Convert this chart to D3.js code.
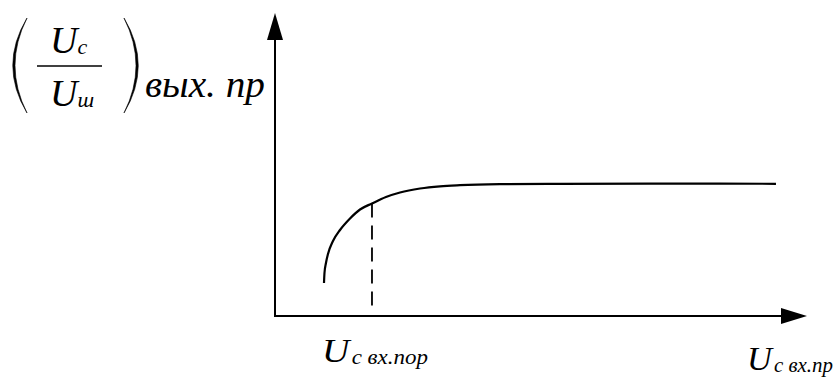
<!DOCTYPE html>
<html>
<head>
<meta charset="utf-8">
<script src="https://cdn.jsdelivr.net/npm/d3@7"></script>
<style>
  body { margin: 0; background: #fff; }
</style>
</head>
<body>
<div id="viz"></div>
<script>
var width = 840
var height = 382

// curve (arbitrary units)
var curveX = [9.21, 9.30, 9.58, 9.96, 10.90, 12.22, 14.10, 15.98, 18.23, 20.86, 23.50, 27.26, 31.02, 34.77, 42.29, 53.57, 70.49, 94.17]
var curveY = [10.89, 14.19, 17.49, 20.46, 24.75, 28.38, 32.18, 35.15, 37.13, 39.27, 40.76, 42.08, 42.81, 43.17, 43.50, 43.63, 43.70, 43.63]

// threshold point
var thresholdX = 18.23
var thresholdY = 37.13

// labels
var yLabelNum = ["U", "c"]
var yLabelDen = ["U", "ш"]
var yLabelSub = "вых. пр"
var xLabels = [
  { main: "U", sub: "c вх.пор" },
  { main: "U", sub: "c вх.пр" }
]

var serif = "'Liberation Serif', 'Times New Roman', Tinos, 'Nimbus Roman', 'FreeSerif', 'DejaVu Serif', serif"

var svg = d3.select("#viz")
  .append("svg")
  .attr("width", width)
  .attr("height", height)
  .attr("font-family", serif)
  .attr("font-style", "italic");

var x = d3.scaleLinear().domain([0, 100]).range([275, 807]);
var y = d3.scaleLinear().domain([0, 100]).range([316, 13]);

// axes
svg.append("line")
  .attr("x1", x(0)).attr("y1", y(0))
  .attr("x2", x(0)).attr("y2", y(92))
  .attr("stroke", "#000").attr("stroke-width", 2);

svg.append("line")
  .attr("x1", x(0) - 1).attr("y1", y(0))
  .attr("x2", x(96)).attr("y2", y(0))
  .attr("stroke", "#000").attr("stroke-width", 2);

// arrow heads
svg.append("path")
  .attr("d", "M" + x(0) + "," + y(100) + " L" + (x(0) - 8) + "," + (y(100) + 27) + " L" + (x(0) + 8) + "," + (y(100) + 27) + " Z")
  .attr("fill", "#000");

svg.append("path")
  .attr("d", "M" + x(100) + "," + y(0) + " L" + (x(100) - 26) + "," + (y(0) - 8) + " L" + (x(100) - 26) + "," + (y(0) + 8) + " Z")
  .attr("fill", "#000");

// curve
var pts = curveX.map(function(d, i) { return [d, curveY[i]]; });
var line = d3.line()
  .x(function(d) { return x(d[0]); })
  .y(function(d) { return y(d[1]); })
  .curve(d3.curveMonotoneX);

svg.append("path")
  .datum(pts)
  .attr("d", line)
  .attr("fill", "none")
  .attr("stroke", "#000")
  .attr("stroke-width", 2.2);

// dashed threshold line
svg.append("line")
  .attr("x1", x(thresholdX)).attr("y1", y(thresholdY))
  .attr("x2", x(thresholdX)).attr("y2", y(1.2))
  .attr("stroke", "#000")
  .attr("stroke-width", 1.8)
  .attr("stroke-dasharray", "14,8");

// y label: ( Uc / Uш ) вых. пр
var yl = svg.append("g");

function paren(x0, dir) {
  // thin crescent bracket
  var top = 18, bot = 113, mid = (top + bot) / 2;
  var bulge = 15 * dir;
  return "M" + x0 + "," + top +
    " Q" + (x0 - bulge * 1.9) + "," + mid + " " + x0 + "," + bot +
    " Q" + (x0 - bulge * 1.6) + "," + mid + " " + x0 + "," + top + " Z";
}
yl.append("path").attr("d", paren(27, 1)).attr("fill", "#000").attr("stroke", "#000").attr("stroke-width", 0.6);
yl.append("path").attr("d", paren(124, -1)).attr("fill", "#000").attr("stroke", "#000").attr("stroke-width", 0.6);

var num = yl.append("text").attr("x", 50).attr("y", 53).attr("font-size", 38);
num.append("tspan").text(yLabelNum[0]);
num.append("tspan").attr("dy", 1).attr("font-size", 22).text(yLabelNum[1]);

yl.append("line")
  .attr("x1", 37).attr("x2", 102)
  .attr("y1", 66).attr("y2", 66)
  .attr("stroke", "#000").attr("stroke-width", 1.6);

var den = yl.append("text").attr("x", 50).attr("y", 106).attr("font-size", 38);
den.append("tspan").text(yLabelDen[0]);
den.append("tspan").attr("dy", 1).attr("font-size", 22).text(yLabelDen[1]);

yl.append("text")
  .attr("x", 145).attr("y", 97)
  .attr("textLength", 120)
  .attr("lengthAdjust", "spacingAndGlyphs")
  .attr("font-size", 38)
  .text(yLabelSub);

// x labels
var xPos = [[322, 362], [747, 370]];
var xLen = [106, 86];
xLabels.forEach(function(l, i) {
  var t = svg.append("text")
    .attr("x", xPos[i][0]).attr("y", xPos[i][1])
    .attr("textLength", xLen[i])
    .attr("lengthAdjust", "spacingAndGlyphs")
    .attr("font-size", 33);
  t.append("tspan").text(l.main);
  t.append("tspan").attr("dx", 2).attr("dy", 2).attr("font-size", 20).text(l.sub);
});
</script>
</body>
</html>
